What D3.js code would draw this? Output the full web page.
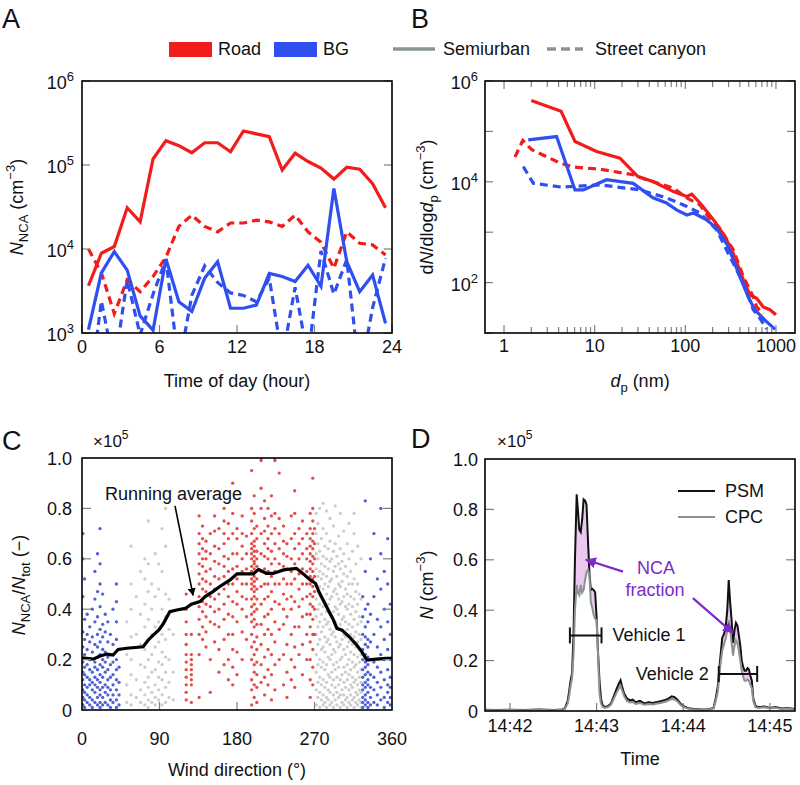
<!DOCTYPE html>
<html><head><meta charset="utf-8">
<script src="https://cdn.jsdelivr.net/npm/d3@7"></script>
<style>body{margin:0;background:#fff}svg{font-family:"Liberation Sans",Arial,sans-serif}</style>
</head><body>
<svg id="c" width="800" height="785"></svg>
<script>
// ---------- Panel A data ----------
const hours = [0.5,1.5,2.5,3.5,4.5,5.5,6.5,7.5,8.5,9.5,10.5,11.5,12.5,13.5,14.5,15.5,16.5,17.5,18.5,19.5,20.5,21.5,22.5,23.5];
const roadSemi = [3650,8900,10700,31000,21000,118000,195000,170000,140000,184000,184000,144000,254000,235000,217000,87000,138000,110000,92000,68000,94000,89000,60000,31000];
const roadCanyon = [10000,5200,1700,4300,3100,4700,8000,18600,25300,18600,16000,20400,20400,22000,21000,18600,25300,16000,12000,5900,16000,11700,11200,8500];
const bgSemi = [1100,5200,9300,5600,1600,1080,7600,2360,1800,4500,7060,1970,1970,2150,5130,4700,4100,6400,3600,52600,7060,3100,4900,1300];
const bgCanyon = [150,2400,400,4300,950,2900,7500,400,2800,6300,4000,3000,2800,2350,4500,500,3500,500,9500,2900,7500,300,2000,7800];
const hourTicks = [0,6,12,18,24];
const expTicksA = [3,4,5,6];

// ---------- Panel B data ----------
const roadSemiD = [2.0,4.26,6.07,10.5,19,30,44,74,104,118,151,212,274,338,437,517,612,724,856,1000];
const roadSemiN = [412000,250000,63000,40000,29500,12700,10100,6400,5100,5700,3500,1620,820,380,113,57,49,33,29,23];
const roadCanD = [1.32,1.61,2.02,4.15,5.8,11.4,26.6,37.5,74,104,145,179,240,338,437,562,612,724];
const roadCanN = [31000,66000,43500,23500,19600,17800,13800,11000,7500,4770,3500,2040,1200,450,131,52,33,24];
const bgSemiD = [1.85,3.8,6.07,7.5,13.5,26.6,44,62,80,104,123,172,221,297,400,494,585,755,980];
const bgSemiN = [68000,79000,6900,6900,11000,9300,4800,3800,2770,2200,2400,1760,1200,520,131,52,29,18,11.8];
const bgCanD = [1.63,2.1,4.26,11.4,31.6,62,104,145,221,310,437,562,665,790];
const bgCanN = [20000,9400,7850,8700,6900,4800,3250,2400,1120,330,97,29,19.5,12];
const dpTickLabels = ["1","10","100","1000"];
const expTicksB = [2,4,6];

// ---------- Panel C data (wind direction columns, N_NCA/N_tot in 1e5 units) ----------
const blueCols = [
 [1,[0.02,0.05,0.08,0.12,0.15,0.19,0.25,0.31,0.45,0.6,0.7]],
 [3,[0.01,0.04,0.07,0.1,0.14,0.17,0.22,0.28,0.36,0.52]],
 [6,[0.03,0.06,0.09,0.13,0.18,0.24,0.3,0.38]],
 [9,[0.02,0.05,0.1,0.12,0.16,0.2,0.27,0.33]],
 [12,[0.01,0.04,0.08,0.11,0.15,0.23,0.29,0.4]],
 [15,[0.03,0.07,0.1,0.13,0.17,0.19,0.26,0.35,0.44,0.55]],
 [18,[0.02,0.05,0.09,0.12,0.16,0.21,0.25,0.3,0.37,0.47,0.62]],
 [21,[0.01,0.03,0.06,0.08,0.11,0.14,0.18,0.22,0.27,0.32,0.41,0.5,0.58,0.72]],
 [24,[0.02,0.05,0.09,0.13,0.17,0.2,0.24,0.29,0.34,0.46]],
 [27,[0.03,0.07,0.1,0.15,0.19,0.23,0.31,0.38]],
 [30,[0.02,0.06,0.09,0.12,0.16,0.21,0.27,0.35]],
 [33,[0.01,0.04,0.08,0.13,0.18,0.22,0.3]],
 [36,[0.03,0.06,0.1,0.14,0.19,0.26,0.4]],
 [40,[0.01,0.04,0.08,0.12,0.16,0.2,0.28,0.35,0.43,0.5]],
 [43,[0.02,0.06,0.11,0.17,0.24]],
 [326,[0.01,0.03,0.05,0.08,0.1,0.13,0.16,0.2,0.24,0.3,0.37,0.45]],
 [329,[0.02,0.04,0.06,0.09,0.11,0.14,0.17,0.19,0.22,0.26,0.29,0.33,0.4,0.55,0.83]],
 [332,[0.01,0.03,0.07,0.1,0.12,0.15,0.18,0.21,0.25,0.28,0.35,0.42]],
 [335,[0.02,0.05,0.09,0.14,0.2,0.27,0.38,0.6]],
 [339,[0.03,0.08,0.13,0.19,0.3,0.45,0.7]],
 [343,[0.02,0.06,0.11,0.17,0.25,0.36,0.52]],
 [347,[0.04,0.09,0.15,0.22,0.33,0.48,0.62,0.8]],
 [351,[0.01,0.05,0.12,0.2,0.28,0.4,0.55]],
 [355,[0.03,0.07,0.1,0.16,0.24,0.35,0.5,0.68]],
 [358,[0.02,0.05,0.09,0.13,0.2,0.3,0.42]]
];
const grayCols = [
 [52,[0.03,0.1,0.22,0.35]],
 [57,[0.02,0.06,0.14,0.2,0.29,0.4,0.5,0.65]],
 [63,[0.05,0.12,0.3,0.45]],
 [68,[0.03,0.08,0.18,0.26,0.38,0.55]],
 [73,[0.02,0.06,0.11,0.17,0.24,0.33,0.42,0.52,0.6]],
 [77,[0.01,0.04,0.09,0.13,0.2,0.28,0.36,0.47,0.58,0.75]],
 [81,[0.03,0.07,0.15,0.22,0.3,0.4,0.5]],
 [85,[0.02,0.05,0.1,0.16,0.25,0.33,0.45,0.62]],
 [89,[0.04,0.08,0.13,0.19,0.27,0.35,0.48,0.58]],
 [93,[0.02,0.06,0.12,0.18,0.23,0.3,0.4,0.55,0.72]],
 [97,[0.03,0.09,0.15,0.21,0.28,0.37,0.46,0.65,0.8]],
 [101,[0.05,0.11,0.2,0.32,0.44]],
 [106,[0.04,0.15,0.3]],
 [272,[0.02,0.08,0.15,0.22,0.3,0.37,0.44,0.5,0.56,0.62,0.7,0.78]],
 [274,[0.05,0.11,0.18,0.26,0.33,0.4,0.47,0.53,0.6,0.66,0.74]],
 [276,[0.01,0.07,0.13,0.2,0.28,0.35,0.42,0.49,0.55,0.63,0.8]],
 [278,[0.04,0.1,0.17,0.24,0.31,0.38,0.45,0.52,0.58,0.68]],
 [280,[0.02,0.06,0.12,0.19,0.25,0.33,0.41,0.48,0.54,0.61,0.72,0.82]],
 [282,[0.03,0.09,0.16,0.23,0.29,0.36,0.43,0.5,0.57,0.65]],
 [284,[0.01,0.05,0.11,0.18,0.27,0.34,0.39,0.46,0.53,0.6,0.7,0.79]],
 [286,[0.04,0.08,0.14,0.21,0.28,0.35,0.42,0.49,0.56,0.64]],
 [288,[0.02,0.07,0.13,0.2,0.26,0.32,0.38,0.44,0.51,0.59,0.67,0.76]],
 [290,[0.03,0.1,0.15,0.22,0.3,0.37,0.45,0.52,0.6]],
 [292,[0.01,0.06,0.12,0.18,0.24,0.31,0.39,0.47,0.55,0.63,0.73]],
 [294,[0.04,0.09,0.16,0.23,0.29,0.35,0.41,0.48,0.57,0.66,0.81]],
 [296,[0.02,0.07,0.13,0.19,0.27,0.33,0.4,0.46,0.53,0.61]],
 [298,[0.05,0.1,0.17,0.25,0.32,0.38,0.44,0.5,0.58,0.69]],
 [300,[0.01,0.06,0.12,0.2,0.26,0.34,0.42,0.49,0.56,0.64,0.78]],
 [302,[0.03,0.08,0.14,0.21,0.28,0.36,0.43,0.51,0.59]],
 [304,[0.02,0.06,0.11,0.17,0.24,0.3,0.37,0.45,0.54,0.62,0.71]],
 [306,[0.04,0.09,0.15,0.22,0.29,0.35,0.41,0.48,0.57]],
 [308,[0.01,0.05,0.12,0.18,0.25,0.32,0.4,0.46,0.53,0.66]],
 [310,[0.03,0.08,0.14,0.2,0.27,0.34,0.42,0.5,0.6,0.74]],
 [312,[0.02,0.06,0.1,0.16,0.23,0.3,0.38,0.45,0.55]],
 [314,[0.04,0.09,0.13,0.19,0.26,0.33,0.41,0.5,0.63]],
 [316,[0.01,0.05,0.11,0.17,0.22,0.29,0.36,0.44,0.52,0.7,0.78]],
 [318,[0.03,0.07,0.12,0.18,0.25,0.31,0.39,0.47,0.58]],
 [320,[0.02,0.06,0.1,0.15,0.21,0.27,0.34,0.42,0.5,0.65]],
 [322,[0.04,0.08,0.13,0.19,0.24,0.3,0.37,0.46]],
 [324,[0.01,0.03,0.07,0.11,0.16,0.22,0.28,0.35,0.44,0.6]]
];
const redCols = [
 [121,[0.04,0.07,0.1,0.13,0.16,0.19,0.22,0.26,0.3,0.35,0.4,0.46]],
 [127,[0.03,0.1,0.12,0.14,0.16,0.18,0.2,0.22,0.3]],
 [136,[0.05,0.22,0.3,0.36,0.41,0.45,0.5,0.54,0.58,0.62,0.66,0.7,0.77]],
 [140,[0.28,0.33,0.39,0.43,0.48,0.52,0.57,0.6,0.64,0.68,0.73]],
 [144,[0.25,0.31,0.37,0.42,0.47,0.51,0.55,0.6,0.63,0.67]],
 [149,[0.07,0.2,0.35,0.41,0.45,0.5,0.56,0.62,0.7]],
 [154,[0.27,0.34,0.39,0.44,0.48,0.53,0.59,0.65,0.71,0.77]],
 [159,[0.15,0.24,0.33,0.4,0.46,0.52,0.58,0.64,0.72]],
 [165,[0.18,0.28,0.36,0.42,0.48,0.53,0.57,0.61,0.66,0.7,0.75,0.8]],
 [170,[0.12,0.2,0.3,0.38,0.45,0.5,0.55,0.6,0.68,0.74]],
 [175,[0.1,0.17,0.24,0.3,0.37,0.43,0.5,0.56,0.62,0.7,0.78,0.9]],
 [180,[0.14,0.23,0.35,0.42,0.47,0.52,0.57,0.62,0.68,0.72]],
 [186,[0.2,0.31,0.4,0.45,0.5,0.55,0.6,0.65,0.7,0.77]],
 [191,[0.28,0.37,0.44,0.5,0.56,0.62,0.69]],
 [197,[0.02,0.08,0.12,0.2,0.25,0.3,0.35,0.38,0.41,0.44,0.48,0.5,0.52,0.55,0.57,0.6,0.62,0.64,0.66,0.7,0.75,0.8,0.95]],
 [200,[0.05,0.1,0.15,0.18,0.22,0.27,0.33,0.36,0.39,0.42,0.45,0.47,0.49,0.51,0.53,0.56,0.58,0.59,0.61,0.63,0.65,0.67,0.72,0.78,0.85]],
 [203,[0.03,0.09,0.14,0.19,0.24,0.29,0.34,0.4,0.44,0.48,0.52,0.57,0.6,0.63,0.68,0.73]],
 [208,[0.11,0.18,0.26,0.34,0.42,0.49,0.55,0.62,0.7,0.8,0.88,0.99,1.0]],
 [212,[0.06,0.13,0.21,0.3,0.37,0.44,0.5,0.56,0.61,0.66,0.71,0.76,0.83]],
 [216,[0.1,0.16,0.24,0.32,0.38,0.45,0.5,0.55,0.6,0.64,0.68,0.73,0.8]],
 [220,[0.04,0.14,0.22,0.3,0.4,0.47,0.53,0.58,0.63,0.7,0.77,0.85]],
 [224,[0.08,0.18,0.27,0.35,0.43,0.5,0.55,0.6,0.66,0.72,0.78,0.99,1.0]],
 [229,[0.2,0.32,0.42,0.5,0.58,0.64,0.7,0.76,0.94]],
 [234,[0.1,0.22,0.34,0.4,0.46,0.52,0.57,0.62,0.67,0.73]],
 [238,[0.05,0.15,0.26,0.37,0.44,0.5,0.56,0.61,0.66]],
 [243,[0.12,0.2,0.3,0.4,0.45,0.5,0.55,0.6,0.68,0.77]],
 [247,[0.09,0.17,0.25,0.33,0.43,0.52,0.58,0.64,0.7,0.78,0.87]],
 [252,[0.22,0.33,0.41,0.48,0.54,0.6,0.66,0.72]],
 [256,[0.14,0.26,0.37,0.44,0.5,0.56,0.62,0.68,0.75]],
 [261,[0.2,0.3,0.38,0.45,0.5,0.55,0.6,0.64,0.7]],
 [265,[0.05,0.12,0.2,0.27,0.33,0.38,0.42,0.46,0.5,0.53,0.56,0.59,0.62,0.65,0.68,0.72,0.78]],
 [268,[0.1,0.17,0.24,0.3,0.36,0.41,0.45,0.49,0.52,0.55,0.58,0.61,0.64,0.67,0.7,0.75,0.8,0.92]],
 [270,[0.3,0.4,0.47,0.53,0.6,0.66,0.72]]
];
const raDeg = [0,13,21,29,36,42,52,71,77,83,89,94,102,110,120,127,137,143,152,160,172,180,199,205,214,222,234,249,257,265,271,276,284,292,296,302,311,319,325,331,342,354,360];
const raVal = [0.207,0.202,0.214,0.222,0.218,0.24,0.245,0.251,0.278,0.298,0.317,0.34,0.39,0.397,0.403,0.42,0.43,0.45,0.47,0.49,0.516,0.54,0.54,0.558,0.542,0.542,0.556,0.562,0.54,0.516,0.503,0.463,0.41,0.357,0.324,0.317,0.288,0.258,0.231,0.198,0.202,0.205,0.205];
const dirTicks = [0,90,180,270,360];
const fracTicks = [0,0.2,0.4,0.6,0.8,1.0];

// ---------- Panel D data (seconds after 14:42:00, N in 1e5 cm^-3) ----------
const tSec = [-17,-10,0,10,20,30,36,38,40,41,
 42,43,44,45,46.2,47,48,49,50,51,
 52,53,54,55,56,57,58,59,60,61,
 62,63,64,65.5,68,70,72,74,75.5,76.6,
 77.5,79,81,83,85,87,90,93,96,99,
 102,105,108,110,112,114,116,118,120,123,
 127,132,137,141,142.5,144,145.5,147,148.5,149.5,
 150.5,151.5,152.5,153.5,154.5,155.5,156.5,157.5,158.5,159.5,
 160.5,161.5,162.5,163.5,164.5,165.5,166.5,167.5,168.5,170,
 172,176,180,184,188,192,197.4];
const psm = [.005,.004,.005,.004,.006,.004,.006,.01,.04,.08,
 .12,.15,.3,.6,.86,.8,.72,.71,.76,.84,
 .835,.82,.68,.55,.48,.485,.48,.47,.37,.23,
 .12,.05,.025,.015,.02,.03,.06,.09,.11,.122,
 .1,.07,.05,.042,.045,.035,.04,.03,.035,.032,
 .036,.04,.045,.05,.058,.055,.045,.03,.02,.012,
 .008,.006,.006,.012,.05,.1,.2,.29,.31,.34,
 .4,.52,.43,.36,.27,.32,.35,.34,.3,.26,
 .2,.175,.16,.16,.17,.165,.14,.12,.05,.02,
 .015,.018,.012,.016,.01,.012,.008];
const cpc = [.004,.003,.004,.003,.005,.003,.005,.008,.03,.06,
 .1,.13,.22,.4,.5,.47,.46,.5,.47,.48,
 .52,.55,.56,.54,.43,.41,.38,.365,.36,.22,
 .07,.03,.018,.012,.016,.025,.05,.075,.09,.1,
 .085,.06,.04,.034,.036,.028,.032,.025,.028,.026,
 .03,.033,.038,.042,.048,.046,.038,.025,.016,.01,
 .006,.005,.005,.01,.04,.08,.17,.24,.27,.29,
 .32,.36,.32,.27,.22,.26,.28,.27,.24,.2,
 .16,.135,.12,.12,.125,.12,.105,.09,.04,.015,
 .012,.015,.01,.013,.008,.01,.006];
const timeTicks = [0,60,120,180];
const timeTickLabels = ["14:42","14:43","14:44","14:45"];
const vehicles = [{label:"Vehicle 1",t0:41.5,t1:63.4,v:0.3,side:"right"},{label:"Vehicle 2",t0:144.6,t1:171.2,v:0.147,side:"left"}];

// ---------- drawing ----------
const RED="#f21c1c", BLUE="#2f4ff0", LEGGRAY="#8a9494", TICK="#808080";
const PURPLE="#7a2bc8";
const svg = d3.select("#c");
const defs = svg.append("defs");
function mkMarker(id,color){
  defs.append("marker").attr("id",id).attr("viewBox","0 0 10 10").attr("refX",9).attr("refY",5)
   .attr("markerWidth",5).attr("markerHeight",5).attr("orient","auto").attr("markerUnits","strokeWidth")
   .append("path").attr("d","M0,0L10,5L0,10z").attr("fill",color);
}
mkMarker("arrK","#000"); mkMarker("arrP",PURPLE);
function clipRect(id,x0,y0,x1,y1){ defs.append("clipPath").attr("id",id).append("rect").attr("x",x0).attr("y",y0).attr("width",x1-x0).attr("height",y1-y0); }
function frame(x0,y0,x1,y1){ svg.append("rect").attr("x",x0).attr("y",y0).attr("width",x1-x0).attr("height",y1-y0).attr("fill","none").attr("stroke","#000").attr("stroke-width",1.6); }
function seg(x1,y1,x2,y2,c,w){ return svg.append("line").attr("x1",x1).attr("y1",y1).attr("x2",x2).attr("y2",y2).attr("stroke",c||TICK).attr("stroke-width",w||1.2); }
function txt(x,y,s,o){ o=o||{}; return svg.append("text").attr("x",x).attr("y",y).attr("font-size",o.size||18).attr("text-anchor",o.anchor||"start").attr("fill",o.fill||"#111").text(s); }
function rich(sel,parts){
  let shift=0;
  parts.forEach(p=>{
    const target=p.sub?5:(p.sup?-8:0);
    const ts=sel.append("tspan").attr("dy",target-shift).text(p.t);
    shift=target;
    if(p.sub||p.sup) ts.attr("font-size",13);
    if(p.i) ts.attr("font-style","italic");
  });
}
function powLabel(x,y,e,anchor){ const t=txt(x,y,"",{anchor:anchor||"end"}); rich(t,[{t:"10"},{t:String(e),sup:true}]); }
function rotLabel(x,y,parts){ const t=svg.append("text").attr("transform",`translate(${x},${y}) rotate(-90)`).attr("text-anchor","middle").attr("font-size",18).attr("fill","#111"); rich(t,parts); }

// panel letters
txt(2,28,"A",{size:27}); txt(411,28,"B",{size:27}); txt(2,450,"C",{size:27}); txt(411,448,"D",{size:27});

// legend
svg.append("rect").attr("x",169).attr("y",42).attr("width",43).attr("height",15).attr("fill",RED);
txt(218,55,"Road");
svg.append("rect").attr("x",274).attr("y",42).attr("width",43).attr("height",15).attr("fill",BLUE);
txt(323,55,"BG");
seg(393,49,435,49,LEGGRAY,3.5);
txt(443,55,"Semiurban");
seg(547,49,583,49,LEGGRAY,3.5).attr("stroke-dasharray","9,5");
txt(595,55,"Street canyon");

// ===== Panel A =====
const A={x0:82,x1:392,y0:81,y1:333};
const ax=d3.scaleLinear().domain([0,24]).range([A.x0,A.x1]);
const ay=d3.scaleLog().domain([1e3,1e6]).range([A.y1,A.y0]);
clipRect("clipA",A.x0,A.y0,A.x1,A.y1);
const gA=svg.append("g").attr("clip-path","url(#clipA)");
const lineA=d3.line().x((d,i)=>ax(hours[i])).y(d=>ay(d));
[[roadSemi,RED,null],[roadCanyon,RED,"8,5"],[bgSemi,BLUE,null],[bgCanyon,BLUE,"8,5"]].forEach(([s,c,da])=>{
  const p=gA.append("path").attr("d",lineA(s)).attr("fill","none").attr("stroke",c).attr("stroke-width",3.2).attr("stroke-linejoin","miter");
  if(da) p.attr("stroke-dasharray",da);
});
expTicksA.forEach(e=>{ const y=ay(Math.pow(10,e)); seg(A.x0,y,A.x0+8,y); seg(A.x1-8,y,A.x1,y); powLabel(74,y+8,e); });
hourTicks.forEach(h=>{ const x=ax(h); seg(x,A.y1,x,A.y1-8); txt(x,353,String(h),{anchor:"middle"}); });
frame(A.x0,A.y0,A.x1,A.y1);
txt((A.x0+A.x1)/2,387,"Time of day (hour)",{anchor:"middle"});
rotLabel(23,207,[{t:"N",i:true},{t:"NCA",sub:true},{t:" (cm"},{t:"−3",sup:true},{t:")"}]);

// ===== Panel B =====
const B={x0:485,x1:795,y0:81,y1:333};
const bx=d3.scaleLog().domain([Math.pow(10,-0.21),Math.pow(10,3.21)]).range([B.x0,B.x1]);
const by=d3.scaleLog().domain([10,1e6]).range([B.y1,B.y0]);
clipRect("clipB",B.x0,B.y0,B.x1,B.y1);
const gB=svg.append("g").attr("clip-path","url(#clipB)");
[[roadSemiD,roadSemiN,RED,null],[roadCanD,roadCanN,RED,"8,5"],[bgSemiD,bgSemiN,BLUE,null],[bgCanD,bgCanN,BLUE,"8,5"]].forEach(([xs,ys,c,da])=>{
  const l=d3.line().x((d,i)=>bx(xs[i])).y(d=>by(d));
  const p=gB.append("path").attr("d",l(ys)).attr("fill","none").attr("stroke",c).attr("stroke-width",3.2);
  if(da) p.attr("stroke-dasharray",da);
});
for(let k=0;k<=3;k++){ for(let m=1;m<=9;m++){ const v=m*Math.pow(10,k); if(v>1000) break; const x=bx(v); const L=m===1?8:6; seg(x,B.y0,x,B.y0+L); seg(x,B.y1,x,B.y1-L); } }
dpTickLabels.forEach(s=>{ txt(bx(+s),352,s,{anchor:"middle"}); });
for(let e=1;e<=6;e++){ const y=by(Math.pow(10,e)); seg(B.x0,y,B.x0+8,y); seg(B.x1-8,y,B.x1,y); }
expTicksB.forEach(e=>powLabel(478,by(Math.pow(10,e))+8,e));
frame(B.x0,B.y0,B.x1,B.y1);
{ const t=txt((B.x0+B.x1)/2,387,"",{anchor:"middle"}); rich(t,[{t:"d",i:true},{t:"p",sub:true},{t:" (nm)"}]); }
rotLabel(433,207,[{t:"d"},{t:"N",i:true},{t:"/dlog"},{t:"d",i:true},{t:"p",sub:true},{t:" (cm"},{t:"−3",sup:true},{t:")"}]);

// ===== Panel C =====
const C={x0:82,x1:392,y0:458,y1:710};
const cx=d3.scaleLinear().domain([0,360]).range([C.x0,C.x1]);
const cy=d3.scaleLinear().domain([0,1]).range([C.y1,C.y0]);
clipRect("clipC",C.x0,C.y0,C.x1,C.y1);
const gC=svg.append("g").attr("clip-path","url(#clipC)");
function flat(cols){ const out=[]; cols.forEach(([d,vs])=>vs.forEach(v=>out.push([d,v]))); return out; }
[[grayCols,"#c6c8c8"],[redCols,"#e23a34"],[blueCols,"#3b4fd6"]].forEach(([cols,c])=>{
  gC.selectAll(null).data(flat(cols)).enter().append("circle")
   .attr("cx",d=>cx(d[0])).attr("cy",d=>cy(d[1])).attr("r",1.65).attr("fill",c).attr("fill-opacity",0.9);
});
gC.append("path").attr("d",d3.line().x((d,i)=>cx(raDeg[i])).y(d=>cy(d))(raVal)).attr("fill","none").attr("stroke","#000").attr("stroke-width",3.2);
fracTicks.forEach(v=>{ const y=cy(v); if(v>0&&v<1){ seg(C.x0,y,C.x0+9,y); seg(C.x1-9,y,C.x1,y);} txt(72,y+6.5,v===0?"0":v.toFixed(1),{anchor:"end"}); });
dirTicks.forEach(d=>{ const x=cx(d); if(d>0&&d<360) seg(x,C.y1,x,C.y1-8); txt(x,745,String(d),{anchor:"middle"}); });
frame(C.x0,C.y0,C.x1,C.y1);
{ const t=txt(93,447,"×10",{size:17}); t.append("tspan").attr("dy",-8).attr("font-size",12).text("5"); }
txt(105,500,"Running average",{size:18});
seg(cx(108),cy(0.81),cx(129),cy(0.455),"#000",1.6).attr("marker-end","url(#arrK)");
txt((C.x0+C.x1)/2,776,"Wind direction (°)",{anchor:"middle"});
rotLabel(25,585,[{t:"N",i:true},{t:"NCA",sub:true},{t:"/"},{t:"N",i:true},{t:"tot",sub:true},{t:" (−)"}]);

// ===== Panel D =====
const D={x0:485,x1:795,y0:459,y1:711};
const dx=d3.scaleLinear().domain([-17.3,197.4]).range([D.x0,D.x1]);
const dy=d3.scaleLinear().domain([0,1]).range([D.y1,D.y0]);
clipRect("clipD",D.x0,D.y0,D.x1,D.y1);
const gD=svg.append("g").attr("clip-path","url(#clipD)");
const idx=d3.range(tSec.length);
gD.append("path").attr("d",d3.area().x(i=>dx(tSec[i])).y0(i=>dy(cpc[i])).y1(i=>dy(Math.max(psm[i],cpc[i])))(idx)).attr("fill","#ecc8ef");
gD.append("path").attr("d",d3.line().x(i=>dx(tSec[i])).y(i=>dy(psm[i]))(idx)).attr("fill","none").attr("stroke","#111").attr("stroke-width",2);
gD.append("path").attr("d",d3.line().x(i=>dx(tSec[i])).y(i=>dy(cpc[i]))(idx)).attr("fill","none").attr("stroke","#8a9292").attr("stroke-width",2);
fracTicks.forEach(v=>{ const y=dy(v); if(v>0&&v<1){ seg(D.x0,y,D.x0+9,y); seg(D.x1-9,y,D.x1,y);} txt(478,y+6.5,v===0?"0":v.toFixed(1),{anchor:"end"}); });
timeTicks.forEach((t,i)=>{ const x=dx(t); seg(x,D.y1,x,D.y1-8); txt(x,732,timeTickLabels[i],{anchor:"middle"}); });
frame(D.x0,D.y0,D.x1,D.y1);
{ const t=txt(497,447,"×10",{size:17}); t.append("tspan").attr("dy",-8).attr("font-size",12).text("5"); }
// legend D
seg(678,491,715,491,"#111",2.2); txt(725,497,"PSM");
seg(678,517,715,517,"#8a9292",2.2); txt(725,523,"CPC");
// vehicles
vehicles.forEach(vh=>{
  const x0=dx(vh.t0), x1=dx(vh.t1), y=dy(vh.v);
  seg(x0,y,x1,y,"#111",2); seg(x0,y-8,x0,y+8,"#111",2); seg(x1,y-8,x1,y+8,"#111",2);
  if(vh.side==="right") txt(x1+11,y+6,vh.label); else txt(x0-10,y+6,vh.label,{anchor:"end"});
});
// NCA fraction annotation
txt(656,574,"NCA",{anchor:"middle",fill:PURPLE});
txt(655,596,"fraction",{anchor:"middle",fill:PURPLE});
seg(dx(78.3),dy(0.553),dx(52.6),dy(0.6),PURPLE,2.2).attr("marker-end","url(#arrP)");
seg(dx(126.7),dy(0.448),dx(154.4),dy(0.31),PURPLE,2.2).attr("marker-end","url(#arrP)");
txt((D.x0+D.x1)/2,765,"Time",{anchor:"middle"});
rotLabel(433,585,[{t:"N",i:true},{t:" (cm"},{t:"−3",sup:true},{t:")"}]);
</script>
</body></html>
